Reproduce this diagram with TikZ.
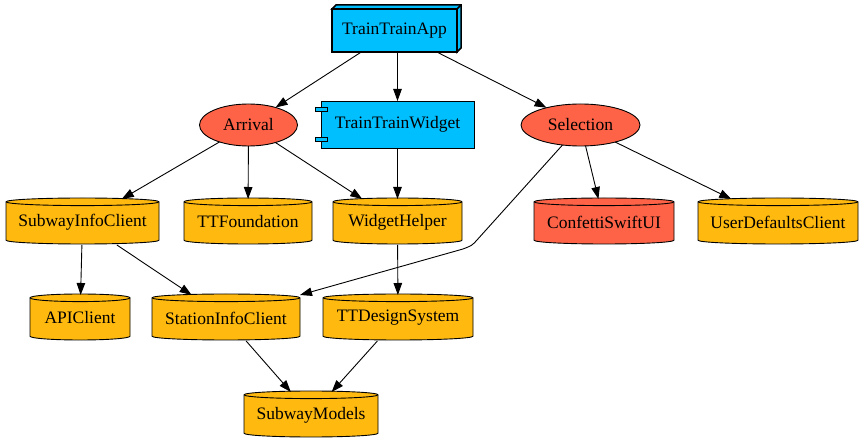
\documentclass[tikz,border=0pt]{standalone}
\usepackage{fontspec}
\setmainfont{Liberation Serif}
\usetikzlibrary{arrows.meta,shapes.geometric}
\definecolor{dsb}{RGB}{0,191,255}
\definecolor{tomatoc}{RGB}{255,99,71}
\definecolor{goldc}{RGB}{255,185,15}
\newcommand\cylnode[6]{% name, cx, cy, halfwidth, text, color
  \draw[line width=0.9pt, fill=#6] (#2-#4,#3-19.2) -- (#2-#4,#3+19.2)
    arc[start angle=180,end angle=360,x radius=#4pt,y radius=3.8pt]
    -- (#2+#4,#3-19.2)
    arc[start angle=0,end angle=180,x radius=#4pt,y radius=3.8pt] -- cycle;
  \draw[line width=0.9pt] (#2-#4,#3-19.2)
    arc[start angle=180,end angle=360,x radius=#4pt,y radius=3.8pt];
  \node[txt, minimum width=2*#4pt, minimum height=46pt] (#1) at (#2,#3+1) {#5};
}
\begin{document}
\begin{tikzpicture}[x=1pt,y=-1pt,
  txt/.style={font=\fontsize{17.5}{20}\selectfont, inner sep=0pt, outer sep=0pt},
  ell/.style={txt, ellipse, draw, line width=0.9pt, fill=tomatoc},
  arr/.style={-{Triangle[length=12pt,width=8.5pt]}, line width=0.9pt}]
\useasboundingbox (0,0) rectangle (865,443);

% TrainTrainApp (box3d)
\node[txt, draw, line width=1.5pt, fill=dsb, minimum width=125pt, minimum height=43pt] (app) at (394.5,30.5) {TrainTrainApp};
\draw[line width=1.5pt, fill=dsb, line join=miter] (app.north west) -- ++(4,-4) -- ([shift={(4,-4)}]app.north east) -- ([shift={(4,-4)}]app.south east) -- (app.south east) -- (app.north east) -- cycle;
\draw[line width=1.5pt] (app.north east) -- ++(4,-4);

% TrainTrainWidget (component)
\node[txt, draw, line width=0.9pt, fill=dsb, minimum width=153pt, minimum height=47pt] (widget) at (397.5,124.5) {TrainTrainWidget};
\draw[line width=0.9pt, fill=dsb] ([shift={(-6,6.5)}]widget.north west) rectangle ([shift={(6,10.5)}]widget.north west);
\draw[line width=0.9pt, fill=dsb] ([shift={(-6,-6.5)}]widget.south west) rectangle ([shift={(6,-10.5)}]widget.south west);

% ellipses
\node[ell, minimum width=98pt, minimum height=42pt] (arrival) at (248.5,125) {Arrival};
\node[ell, minimum width=119pt, minimum height=42pt] (selection) at (580.5,125) {Selection};

% cylinders
\cylnode{sic}{82.5}{221}{76.5}{SubwayInfoClient}{goldc}
\cylnode{ttf}{248}{221}{64}{TTFoundation}{goldc}
\cylnode{wh}{397.5}{221}{64.5}{WidgetHelper}{goldc}
\cylnode{conf}{604}{221}{70}{ConfettiSwiftUI}{tomatoc}
\cylnode{udc}{778}{221}{80}{UserDefaultsClient}{goldc}
\cylnode{api}{80}{317}{50}{APIClient}{goldc}
\cylnode{stic}{226}{317}{74}{StationInfoClient}{goldc}
\cylnode{tds}{398}{317}{75}{TTDesignSystem}{goldc}
\cylnode{sm}{311}{414}{67}{SubwayModels}{goldc}

% edges
\draw[arr] (app) -- (arrival);
\draw[arr] (app.south -| widget.north) -- (widget);
\draw[arr] (app) -- (selection);
\draw[arr] (arrival) -- (sic);
\draw[arr] (arrival) -- (ttf);
\draw[arr] (arrival) -- (wh);
\draw[arr] (widget) -- (wh);
\draw[arr] (selection) -- (477,240) .. controls (472,245.5) .. (463,249) -- (stic.north east);
\draw[arr] (selection) -- (conf);
\draw[arr] (selection) -- (udc);
\draw[arr] (sic) -- (api);
\draw[arr] (sic) -- (stic);
\draw[arr] (wh) -- (tds);
\draw[arr] (stic) -- (sm);
\draw[arr] (tds) -- (sm);
\end{tikzpicture}
\end{document}
